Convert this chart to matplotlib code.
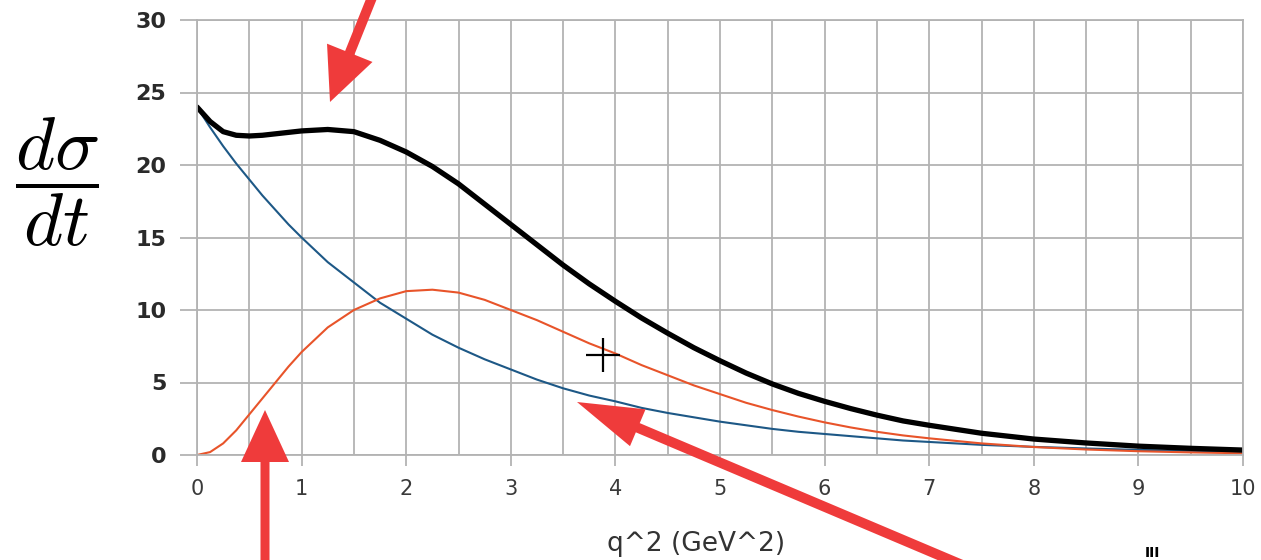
import numpy as np
import matplotlib
matplotlib.use('Agg')
import matplotlib.pyplot as plt
from matplotlib.patches import FancyArrow

plt.rcParams['font.family'] = ['DejaVu Sans']
plt.rcParams['mathtext.fontset'] = 'cm'

# values
q2 = [0, 0.125, 0.25, 0.375, 0.5, 0.625, 0.75, 0.875, 1, 1.25, 1.5, 1.75, 2, 2.25, 2.5, 2.75,
      3, 3.25, 3.5, 3.75, 4, 4.25, 4.5, 4.75, 5, 5.25, 5.5, 5.75, 6, 6.25, 6.5, 6.75,
      7, 7.5, 8, 8.5, 9, 9.5, 10]
blue = [24.0, 22.6, 21.3, 20.1, 19.0, 17.9, 16.9, 15.9, 15.0, 13.3, 11.9, 10.5, 9.4, 8.3, 7.4, 6.6,
        5.9, 5.2, 4.6, 4.1, 3.7, 3.25, 2.9, 2.6, 2.3, 2.05, 1.8, 1.6, 1.45, 1.3, 1.15, 1.0,
        0.9, 0.7, 0.56, 0.45, 0.35, 0.28, 0.22]
orange = [0.0, 0.2, 0.8, 1.7, 2.8, 3.9, 5.0, 6.1, 7.1, 8.8, 10.0, 10.8, 11.3, 11.4, 11.2, 10.7,
          10.0, 9.3, 8.5, 7.7, 7.0, 6.2, 5.5, 4.8, 4.2, 3.6, 3.1, 2.65, 2.25, 1.9, 1.6, 1.35,
          1.15, 0.8, 0.55, 0.38, 0.26, 0.18, 0.12]
total = [24.0, 23.0, 22.3, 22.05, 22.0, 22.05, 22.15, 22.25, 22.35, 22.45, 22.3, 21.7, 20.9, 19.9, 18.7, 17.3,
         15.9, 14.5, 13.1, 11.8, 10.6, 9.45, 8.4, 7.4, 6.5, 5.65, 4.9, 4.25, 3.7, 3.2, 2.75, 2.35,
         2.05, 1.5, 1.1, 0.83, 0.61, 0.46, 0.34]

W, H = 1261, 560
fig = plt.figure(figsize=(W/100, H/100), dpi=100)
ax = fig.add_axes([197/W, 105/H, 1046/W, 435/H])

ax.plot(q2, blue, color='#1d5886', lw=1.5)
ax.plot(q2, orange, color='#e8542a', lw=1.5)
ax.plot(q2, total, color='black', lw=3.8, solid_capstyle='round')

ax.set_xlim(0, 10)
ax.set_ylim(0, 30)
ax.set_xticks(range(11))
ax.set_xticks(np.arange(0.5, 10, 1), minor=True)
ax.set_yticks(range(0, 31, 5))
grid_c = '#b3b3b3'
ax.grid(True, which='both', axis='x', color=grid_c, lw=1.3)
ax.grid(True, which='major', axis='y', color=grid_c, lw=1.3)
ax.set_axisbelow(True)
ax.tick_params(axis='x', which='minor', length=0)
ax.tick_params(axis='x', which='major', length=8, width=1.3, color=grid_c, pad=9,
               labelsize=15, labelcolor='#3a3a3a')
ax.tick_params(axis='y', length=12, width=1.3, color=grid_c, pad=10,
               labelsize=16, labelcolor='#2a2a2a')
for lab in ax.get_yticklabels():
    lab.set_fontweight('bold')

fig.text(57/W, 1-182/H, r'$\dfrac{d\sigma}{dt}$', fontsize=54, ha='center', va='center')
fig.text(696/W, 1-544/H, 'q^2 (GeV^2)', fontsize=19, ha='center', va='center', color='#333333')
fig.text(1152/W, 1-546/H, 'III', fontsize=10, fontweight='bold', ha='center', va='top')
for s in ax.spines.values():
    s.set_color(grid_c)
    s.set_linewidth(1.3)

# overlay in pixel coordinates for the annotations
ov = fig.add_axes([0, 0, 1, 1])
ov.set_xlim(0, W)
ov.set_ylim(H, 0)
ov.axis('off')
ov.patch.set_alpha(0)

red = '#ef3b3b'
arrows = [((375, -10), (330, 102), 10, 49, 53),
          ((265, 570), (265, 410), 9, 48, 52),
          ((974, 570), (577, 402), 10, 40, 66)]
for (x0, y0), (x1, y1), w, hw, hl in arrows:
    ov.add_patch(FancyArrow(x0, y0, x1-x0, y1-y0, width=w, head_width=hw, head_length=hl,
                            length_includes_head=True, color=red, lw=0))

ov.plot([603], [355], marker='+', ms=24, mew=1.6, color='black')

fig.savefig('out.png', dpi=100)
